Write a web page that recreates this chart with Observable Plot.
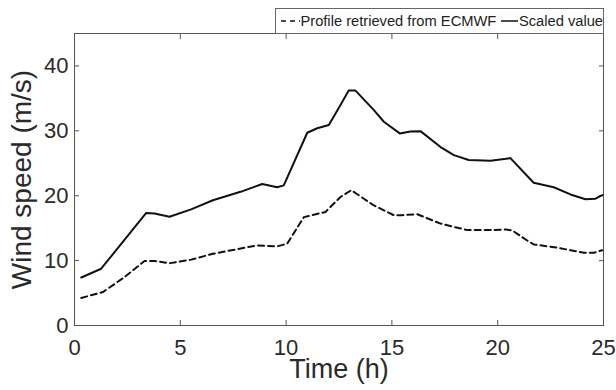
<!DOCTYPE html>
<html>
<head>
<meta charset="utf-8">
<script src="https://cdn.jsdelivr.net/npm/d3@7"></script>
<script src="https://cdn.jsdelivr.net/npm/@observablehq/plot@0.6"></script>
<style>
  html, body { margin: 0; padding: 0; background: #fff; }
  #wrap { position: relative; width: 616px; height: 390px; font-family: 'Liberation Sans', Arial, sans-serif; }
  #legend { position: absolute; left: 275px; top: 8px; width: 327px; height: 24px; border: 1px solid #666; background: #fff;
            display: flex; align-items: center; font-size: 14.7px; color: #222; white-space: nowrap; box-sizing: content-box; }
  #legend svg { display: block; }
</style>
</head>
<body>
<div id="wrap"></div>
<script>
// ---- data ----
const scaledTime  = [0.32, 1.26, 3.39, 3.78, 4.49, 5.51, 6.54, 7.85, 8.87, 9.58, 9.89, 11.0, 11.47, 12.02, 12.57, 12.96, 13.28, 14.15, 14.62, 15.37, 15.88, 16.35, 17.3, 17.93, 18.63, 19.66, 20.6, 21.7, 22.65, 23.44, 24.15, 24.62, 24.94];
const scaledValue = [7.4, 8.75, 17.35, 17.25, 16.75, 17.9, 19.3, 20.6, 21.8, 21.3, 21.6, 29.7, 30.4, 30.9, 34.0, 36.2, 36.2, 33.2, 31.4, 29.6, 29.9, 29.95, 27.5, 26.25, 25.5, 25.4, 25.8, 22.0, 21.3, 20.2, 19.45, 19.55, 20.1];
const profileTime  = [0.32, 1.34, 2.36, 3.31, 3.78, 4.49, 5.51, 6.54, 8.63, 9.58, 10.05, 10.84, 11.86, 12.57, 13.08, 14.15, 15.09, 15.49, 16.2, 17.3, 18.56, 19.66, 20.37, 20.69, 21.39, 21.7, 22.81, 23.44, 24.07, 24.54, 24.94];
const profileValue = [4.25, 5.15, 7.45, 9.95, 9.95, 9.6, 10.15, 11.05, 12.35, 12.2, 12.6, 16.7, 17.5, 19.8, 20.85, 18.5, 17.0, 17.0, 17.15, 15.7, 14.7, 14.7, 14.8, 14.65, 13.1, 12.5, 12.0, 11.6, 11.2, 11.2, 11.6];
const xTicks = [0, 5, 10, 15, 20, 25];
const yTicks = [0, 10, 20, 30, 40];
const xLabel = "Time (h)";
const yLabel = "Wind speed (m/s)";
const profileName = "Profile retrieved from ECMWF";
const scaledName = "Scaled value";

const scaled = scaledTime.map((t, i) => ({t, v: scaledValue[i]}));
const profile = profileTime.map((t, i) => ({t, v: profileValue[i]}));

const frameColor = "#555";
const chart = Plot.plot({
  width: 616,
  height: 390,
  marginLeft: 74,
  marginRight: 13,
  marginTop: 33,
  marginBottom: 65,
  style: {fontFamily: "'Liberation Sans', Arial, sans-serif", color: "#2a2a2a", background: "#fff"},
  x: {domain: [0, 25]},
  y: {domain: [0, 45]},
  marks: [
    Plot.frame({stroke: frameColor}),
    // tick labels
    Plot.axisX(xTicks, {anchor: "bottom", tickSize: 0, tickPadding: 14, fontSize: 22, label: null}),
    Plot.axisY(yTicks, {anchor: "left", tickSize: 0, tickPadding: 6, fontSize: 22, label: null}),
    // inward tick marks on all four sides
    Plot.axisX(xTicks, {anchor: "bottom", tickSize: -5, stroke: frameColor, fill: "none", label: null, tickFormat: () => ""}),
    Plot.axisX(xTicks, {anchor: "top", tickSize: -5, stroke: frameColor, fill: "none", label: null, tickFormat: () => ""}),
    Plot.axisY(yTicks, {anchor: "left", tickSize: -5, stroke: frameColor, fill: "none", label: null, tickFormat: () => ""}),
    Plot.axisY(yTicks, {anchor: "right", tickSize: -5, stroke: frameColor, fill: "none", label: null, tickFormat: () => ""}),
    // axis titles
    Plot.axisX([], {anchor: "bottom", tickSize: 0, fontSize: 27, label: xLabel, labelAnchor: "center", labelOffset: 52, labelArrow: "none"}),
    Plot.axisY([], {anchor: "left", tickSize: 0, fontSize: 28, label: yLabel, labelAnchor: "center", labelOffset: 63, labelArrow: "none"}),
    // data
    Plot.line(profile, {x: "t", y: "v", stroke: "#111", strokeWidth: 2, strokeDasharray: "6,4"}),
    Plot.line(scaled, {x: "t", y: "v", stroke: "#111", strokeWidth: 2})
  ]
});

const wrap = document.getElementById("wrap");
wrap.appendChild(chart);

const legend = document.createElement("div");
legend.id = "legend";
legend.innerHTML =
  `<svg width="22" height="10" style="margin-left:4px"><line x1="1" x2="20" y1="5" y2="5" stroke="#111" stroke-width="1.5" stroke-dasharray="5,4"/></svg>` +
  `<span>${profileName}</span>` +
  `<svg width="20" height="10" style="margin-left:4px"><line x1="1" x2="18" y1="5" y2="5" stroke="#111" stroke-width="1.5"/></svg>` +
  `<span>${scaledName}</span>`;
wrap.appendChild(legend);
</script>
</body>
</html>
